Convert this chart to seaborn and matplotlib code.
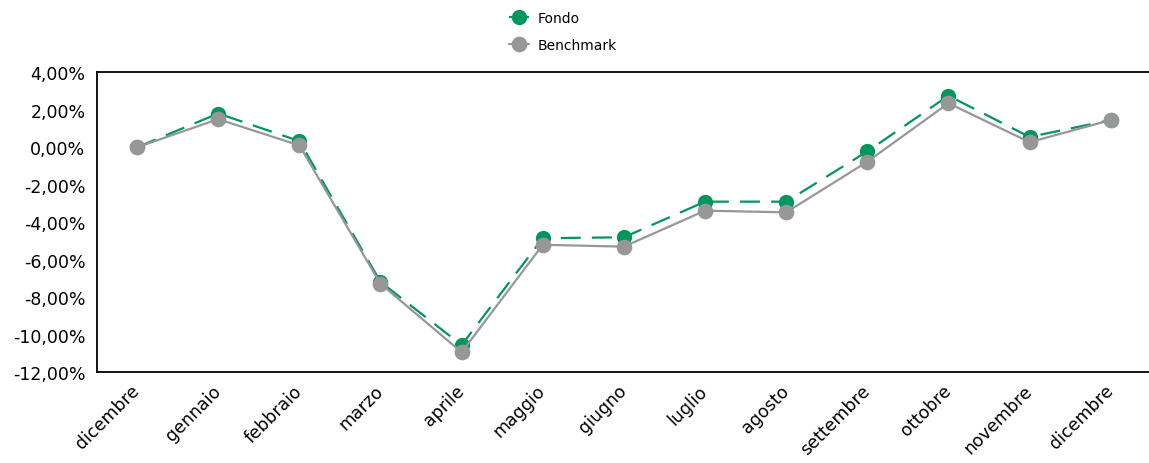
import matplotlib
matplotlib.use("Agg")
import matplotlib.pyplot as plt
from matplotlib.ticker import FuncFormatter, MultipleLocator
import seaborn as sns
import pandas as pd

# Monthly cumulative performance (%)
mesi = ["dicembre", "gennaio", "febbraio", "marzo", "aprile", "maggio", "giugno",
        "luglio", "agosto", "settembre", "ottobre", "novembre", "dicembre"]
fondo = [0.00, 1.80, 0.33, -7.18, -10.55, -4.85, -4.80, -2.90, -2.90, -0.22, 2.75, 0.55, 1.45]
benchmark = [0.00, 1.50, 0.10, -7.28, -10.93, -5.20, -5.30, -3.38, -3.47, -0.77, 2.35, 0.27, 1.45]

verde = "#00965E"
grigio = "#979797"

df = pd.DataFrame({"pos": range(len(mesi)), "Fondo": fondo, "Benchmark": benchmark})

sns.set_style("white")
plt.rcParams["font.family"] = ["DejaVu Sans"]
plt.rcParams["text.color"] = "black"
plt.rcParams["xtick.color"] = "black"
plt.rcParams["ytick.color"] = "black"

fig = plt.figure(figsize=(11.49, 4.64), dpi=100)
ax = fig.add_axes([0.084, 0.1955, 0.918, 0.6466])

sns.lineplot(data=df, x="pos", y="Fondo", ax=ax, color=verde, lw=1.6,
             linestyle=(0, (9, 5)), marker="o", markersize=11,
             markeredgewidth=0, label="Fondo")
sns.lineplot(data=df, x="pos", y="Benchmark", ax=ax, color=grigio, lw=1.6,
             marker="o", markersize=11.3, markeredgewidth=0, label="Benchmark")

ax.set_xlim(-0.5, len(mesi) - 0.5)
ax.set_ylim(-12, 4)
ax.yaxis.set_major_locator(MultipleLocator(2))
ax.yaxis.set_major_formatter(FuncFormatter(lambda v, p: f"{v:.2f}%".replace(".", ",")))
ax.set_xticks(range(len(mesi)))
ax.set_xticklabels(mesi, rotation=45, ha="right", va="center", rotation_mode="anchor")
ax.tick_params(axis="x", length=0, pad=11, labelsize=12.5)
ax.tick_params(axis="y", length=0, pad=8, labelsize=12.5)
ax.set_xlabel("")
ax.set_ylabel("")

for s in ["left", "top", "bottom"]:
    ax.spines[s].set_color("black")
    ax.spines[s].set_linewidth(1.3)
ax.spines["right"].set_visible(False)

ax.legend(loc="center", bbox_to_anchor=(0.49, 0.93), bbox_transform=fig.transFigure,
          frameon=False, fontsize=10, handlelength=1.4, handletextpad=0.6,
          labelspacing=0.95)

fig.savefig("out.png", dpi=100)
